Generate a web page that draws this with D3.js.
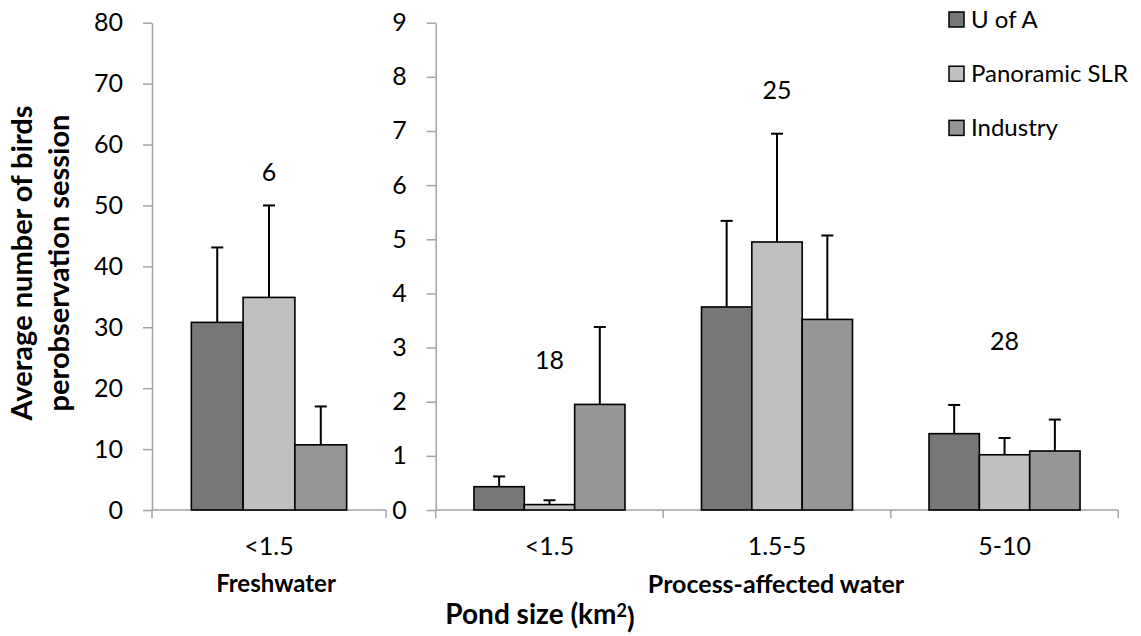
<!DOCTYPE html>
<html>
<head>
<meta charset="utf-8">
<script src="https://cdn.jsdelivr.net/npm/d3@7"></script>
<style>
  html, body { margin: 0; padding: 0; background: #fff; }
  .chart-container { width: 1141px; height: 636px; }
  text { font-family: Lato, "Open Sans", sans-serif; fill: #000; }
</style>
</head>
<body>
<div class="chart-container"></div>
<script>
// ---- data ----
const series = ['U of A', 'Panoramic SLR', 'Industry'];

const freshCats = ['<1.5'];
const freshMean = { 'U of A': [30.8], 'Panoramic SLR': [34.9], 'Industry': [10.7] };
const freshErr  = { 'U of A': [43.1], 'Panoramic SLR': [50.0], 'Industry': [17.0] };
const freshN = ['6'];

const procCats = ['<1.5', '1.5-5', '5-10'];
const procMean = { 'U of A': [0.43, 3.75, 1.41], 'Panoramic SLR': [0.10, 4.95, 1.02], 'Industry': [1.95, 3.52, 1.09] };
const procErr  = { 'U of A': [0.62, 5.34, 1.94], 'Panoramic SLR': [0.18, 6.95, 1.33], 'Industry': [3.38, 5.07, 1.67] };
const procN = ['18', '25', '28'];

const freshTicks = [0, 10, 20, 30, 40, 50, 60, 70, 80];
const procTicks = [0, 1, 2, 3, 4, 5, 6, 7, 8, 9];

// where the sample size labels sit, in axis units
const freshNAt = [55.5];
const procNAt = [2.77, 7.76, 3.12];

const colors = { 'U of A': '#777777', 'Panoramic SLR': '#c0c0c0', 'Industry': '#969696' };

// ---- layout ----
const container = d3.select('.chart-container');
const outerW = 1141, outerH = 636;
const plotTop = 22.7, plotBottom = 510;
const axisColor = '#a3a3a3';

const svg = container.append('svg')
  .attr('width', outerW)
  .attr('height', outerH);

function panel(cats, mean, err, ns, nAt, ticks, x0, x1, yMax) {
  const g = svg.append('g');

  const x = d3.scaleBand().domain(cats).range([x0, x1]);
  const xs = d3.scaleBand().domain(series).range([0, x.bandwidth()]).paddingOuter(0.76);
  const y = d3.scaleLinear().domain([0, yMax]).range([plotBottom, plotTop]);

  // y axis
  const yAxis = g.append('g')
    .attr('transform', `translate(${x0},0)`)
    .call(d3.axisLeft(y).tickValues(ticks).tickSize(9).tickPadding(20).tickSizeOuter(0));
  yAxis.select('.domain').attr('stroke', axisColor).attr('stroke-width', 1.5);
  yAxis.selectAll('.tick line').attr('stroke', axisColor).attr('stroke-width', 1.5);
  yAxis.selectAll('.tick text').style('font-size', '25px').attr('fill', '#000');

  // x axis: baseline plus ticks at band edges
  g.append('line')
    .attr('x1', x0).attr('x2', x1)
    .attr('y1', plotBottom).attr('y2', plotBottom)
    .attr('stroke', axisColor).attr('stroke-width', 1.5);
  const edges = cats.map(c => x(c)).concat([x1]);
  g.selectAll('.xtick')
    .data(edges)
    .enter()
    .append('line')
    .attr('class', 'xtick')
    .attr('x1', d => d).attr('x2', d => d)
    .attr('y1', plotBottom).attr('y2', plotBottom + 8)
    .attr('stroke', axisColor).attr('stroke-width', 1.5);

  g.selectAll('.xlabel')
    .data(cats)
    .enter()
    .append('text')
    .attr('class', 'xlabel')
    .attr('x', d => x(d) + x.bandwidth() / 2)
    .attr('y', 546)
    .attr('dy', '0.35em')
    .attr('text-anchor', 'middle')
    .style('font-size', '25px')
    .text(d => d);

  const rows = [];
  cats.forEach((c, i) => {
    series.forEach(s => rows.push({ cat: c, s: s, v: mean[s][i], e: err[s][i] }));
  });

  // error bars (drawn first so bars cover the lower half)
  const eb = g.append('g').attr('stroke', '#000').attr('stroke-width', 2);
  eb.selectAll('.eline')
    .data(rows)
    .enter()
    .append('line')
    .attr('x1', d => x(d.cat) + xs(d.s) + xs.bandwidth() / 2)
    .attr('x2', d => x(d.cat) + xs(d.s) + xs.bandwidth() / 2)
    .attr('y1', d => y(d.v))
    .attr('y2', d => y(d.e));
  eb.selectAll('.ecap')
    .data(rows)
    .enter()
    .append('line')
    .attr('x1', d => x(d.cat) + xs(d.s) + xs.bandwidth() / 2 - 6)
    .attr('x2', d => x(d.cat) + xs(d.s) + xs.bandwidth() / 2 + 6)
    .attr('y1', d => y(d.e))
    .attr('y2', d => y(d.e));

  g.append('g')
    .selectAll('rect')
    .data(rows)
    .enter()
    .append('rect')
    .attr('x', d => x(d.cat) + xs(d.s))
    .attr('y', d => y(d.v))
    .attr('width', xs.bandwidth())
    .attr('height', d => y(0) - y(d.v))
    .attr('fill', d => colors[d.s])
    .attr('stroke', '#000')
    .attr('stroke-width', 1.6);

  // sample size labels
  g.selectAll('.nlabel')
    .data(cats)
    .enter()
    .append('text')
    .attr('class', 'nlabel')
    .attr('x', d => x(d) + x.bandwidth() / 2)
    .attr('y', (d, i) => y(nAt[i]))
    .attr('dy', '0.35em')
    .attr('text-anchor', 'middle')
    .style('font-size', '25px')
    .text((d, i) => ns[i]);

  return x;
}

const xF = panel(freshCats, freshMean, freshErr, freshN, freshNAt, freshTicks, 152, 386, 80);
const xP = panel(procCats, procMean, procErr, procN, procNAt, procTicks, 435.7, 1118.3, 9);

// group titles
svg.append('text')
  .attr('x', (152 + 386) / 2 + 7)
  .attr('y', 584)
  .attr('dy', '0.35em')
  .attr('text-anchor', 'middle')
  .style('font-size', '24px').style('font-weight', 'bold')
  .text('Freshwater');

svg.append('text')
  .attr('x', 776)
  .attr('y', 584)
  .attr('dy', '0.35em')
  .attr('text-anchor', 'middle')
  .style('font-size', '25px').style('font-weight', 'bold')
  .text('Process-affected water');

const pond = svg.append('text')
  .attr('x', 540)
  .attr('y', 614)
  .attr('dy', '0.35em')
  .attr('text-anchor', 'middle')
  .style('font-size', '28px').style('font-weight', 'bold');
pond.append('tspan').text('Pond size (km');
pond.append('tspan').text('2').attr('dy', '-0.4em').style('font-size', '18px');
pond.append('tspan').text(')').attr('dy', '0.4em');

// y axis title
const yTitle = svg.append('text')
  .attr('transform', 'translate(22,263) rotate(-90)')
  .attr('text-anchor', 'middle')
  .style('font-size', '29px').style('font-weight', 'bold');
yTitle.append('tspan').attr('x', 0).attr('dy', '0.35em').text('Average number of birds');
yTitle.append('tspan').attr('x', 0).attr('dy', '1.28em').text('perobservation session');

// legend
const legend = svg.append('g')
  .selectAll('g')
  .data(series)
  .enter()
  .append('g')
  .attr('transform', (d, i) => `translate(949,${19.5 + i * 54.2})`);

legend.append('rect')
  .attr('x', 0).attr('y', -7.5)
  .attr('width', 15).attr('height', 15)
  .attr('fill', d => colors[d])
  .attr('stroke', '#000').attr('stroke-width', 1.5);

legend.append('text')
  .attr('x', 22)
  .attr('dy', '0.35em')
  .style('font-size', '24px')
  .text(d => d);
</script>
</body>
</html>
